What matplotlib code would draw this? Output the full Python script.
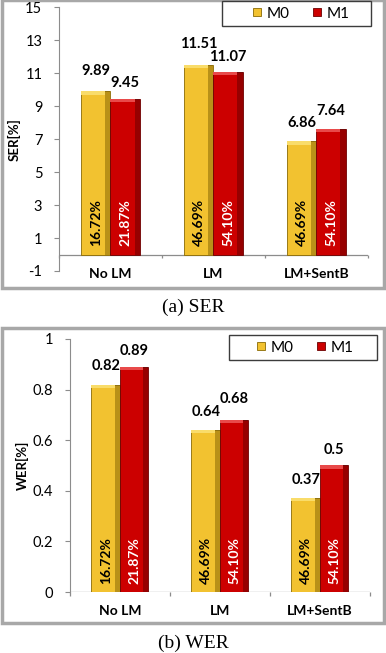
import numpy as np
import matplotlib.pyplot as plt
from matplotlib.patches import Rectangle

categories = ['No LM', 'LM', 'LM+SentB']
series = ['M0', 'M1']
ser_m0 = [9.89, 11.51, 6.86]
ser_m1 = [9.45, 11.07, 7.64]
wer_m0 = [0.82, 0.64, 0.37]
wer_m1 = [0.89, 0.68, 0.5]
wer_m1_labels = ['0.89', '0.68', '0.5']
pct_m0 = ['16.72%', '46.69%', '46.69%']
pct_m1 = ['21.87%', '54.10%', '54.10%']

gold, gold_dark, gold_light = '#F2C230', '#8A6A05', '#F9DC6A'
red, red_dark, red_light = '#CC0000', '#6B0000', '#E84A4A'
plt.rcParams['font.family'] = ['Lato', 'DejaVu Sans']
W, H = 386.0, 653.0


def draw_bars(ax, x, vals, color, dark, light, width, span):
    bars = ax.bar(x, vals, width, color=color, edgecolor=dark, linewidth=0.6, zorder=3)
    # darker strip on the right and a lighter cap on top (bevel look)
    ax.bar(x + width * 0.41, vals, width * 0.18, color=dark, alpha=0.55,
           linewidth=0, zorder=4)
    cap = span * 0.012
    ax.bar(x - width * 0.09, cap, width * 0.82, bottom=vals - cap, color=light,
           linewidth=0, zorder=4)
    return bars


def label_offsets(v0, v1, pts_per_unit, base0=8, base1=6, sep=9):
    # nudge the higher label up when the two labels of a group would collide
    y0, y1 = v0 * pts_per_unit + base0, v1 * pts_per_unit + base1
    if abs(y0 - y1) < sep:
        if y0 >= y1:
            base0 += sep - (y0 - y1)
        else:
            base1 += sep - (y1 - y0)
    return base0, base1


def panel(fig, rect, m0, m1, m1_text, ylim, yticks, ylabel, ticklabels,
          legend_center, legend_frame):
    ax = fig.add_axes(rect)
    ax.patch.set_alpha(0)
    x = np.arange(len(categories))
    w = 0.285
    span = ylim[1] - ylim[0]
    b0 = draw_bars(ax, x - w / 2, np.array(m0), gold, gold_dark, gold_light, w, span)
    b1 = draw_bars(ax, x + w / 2, np.array(m1), red, red_dark, red_light, w, span)

    ppu = rect[3] * H / span * 0.72
    for xi, v0, v1, t1 in zip(x, m0, m1, m1_text):
        o0, o1 = label_offsets(v0, v1, ppu)
        ax.annotate('%.2f' % v0, (xi - w / 2, v0), xytext=(0, o0),
                    textcoords='offset points', ha='center', va='bottom',
                    fontsize=10.5, fontweight='bold')
        ax.annotate(t1, (xi + w / 2, v1), xytext=(0, o1),
                    textcoords='offset points', ha='center', va='bottom',
                    fontsize=10.5, fontweight='bold')
    for xi, t in zip(x - w / 2, pct_m0):
        ax.annotate(t, (xi, 0), xytext=(0, 6), textcoords='offset points',
                    ha='center', va='bottom', rotation=90, fontsize=10,
                    fontweight='bold', color='black', zorder=5)
    for xi, t in zip(x + w / 2, pct_m1):
        ax.annotate(t, (xi, 0), xytext=(0, 6), textcoords='offset points',
                    ha='center', va='bottom', rotation=90, fontsize=10,
                    fontweight='bold', color='white', zorder=5)

    ax.set_xlim(-0.5, len(categories) - 0.5)
    ax.set_ylim(*ylim)
    ax.set_yticks(yticks)
    ax.set_yticklabels(ticklabels, fontsize=10.5)
    ax.set_ylabel(ylabel, fontsize=9.5, fontweight='bold', labelpad=3)
    for s in ['top', 'right', 'bottom']:
        ax.spines[s].set_visible(False)
    ax.spines['left'].set_color('#8C8C8C')
    ax.tick_params(axis='y', color='#8C8C8C', length=3.5, pad=8.5)
    ax.set_xticks([])

    # category axis drawn at zero with ticks between the groups
    ax.axhline(0, color='#8C8C8C', lw=0.9, zorder=2)
    bounds = np.arange(len(categories) + 1) - 0.5
    ax.vlines(bounds, -span * 0.014, 0, color='#8C8C8C', lw=0.9, clip_on=False)
    for xi, c in zip(x, categories):
        ax.annotate(c, (xi, 0), xytext=(0, -14), textcoords='offset points',
                    ha='center', va='center', fontsize=10, fontweight='bold',
                    annotation_clip=False)

    fig.patches.append(Rectangle(legend_frame[:2], legend_frame[2], legend_frame[3],
                                 transform=fig.transFigure, facecolor='white',
                                 edgecolor='#3C3C3C', lw=1.0, zorder=-0.5))
    ax.legend([b0, b1], series, loc='center', bbox_to_anchor=legend_center,
              bbox_transform=fig.transFigure, ncol=2, frameon=False, fontsize=11,
              handlelength=0.5, handleheight=0.5, handletextpad=0.4,
              columnspacing=1.5, borderpad=0.1)
    return ax


fig = plt.figure(figsize=(3.86, 6.53), dpi=100)


def px_rect(x0, y0, x1, y1):
    return (x0 / W, 1 - y1 / H, (x1 - x0) / W, (y1 - y0) / H)


# outer chart frames
for r in [px_rect(2, 0, 384, 288), px_rect(2, 328, 384, 623)]:
    fig.patches.append(Rectangle(r[:2], r[2], r[3], transform=fig.transFigure,
                                 facecolor='white', edgecolor='#A8A8A8', lw=2.5,
                                 zorder=-1))

panel(fig, [0.1528, 0.585, 0.800, 0.404], ser_m0, ser_m1,
      ['%.2f' % v for v in ser_m1], (-1, 15), np.arange(-1, 16, 2), 'SER[%]',
      [str(t) for t in np.arange(-1, 16, 2)], (301.5 / W, 1 - 13.5 / H),
      px_rect(222, 1, 371, 26))

panel(fig, [0.1813, 0.0934, 0.777, 0.3875], wer_m0, wer_m1, wer_m1_labels,
      (0, 1), np.arange(0, 1.01, 0.2), 'WER[%]',
      ['0', '0.2', '0.4', '0.6', '0.8', '1'], (305.5 / W, 1 - 347.5 / H),
      px_rect(229, 335, 377, 360))

fig.text(0.5, 1 - 307 / H, '(a) SER', ha='center', va='center', fontsize=14,
         family='Liberation Serif')
fig.text(0.5, 1 - 643 / H, '(b) WER', ha='center', va='center', fontsize=14,
         family='Liberation Serif')

fig.savefig('out.png', dpi=100)
